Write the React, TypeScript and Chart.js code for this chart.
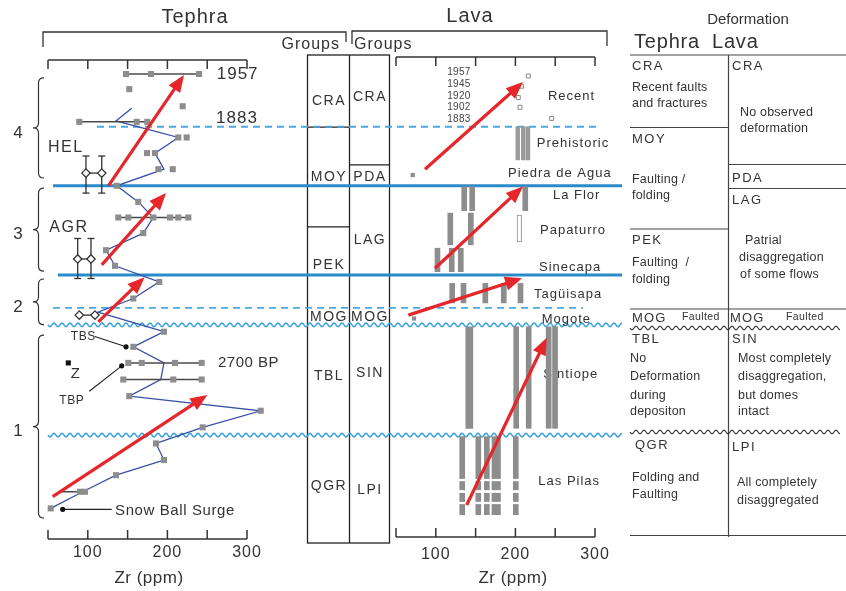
import React, { useEffect, useRef } from "react";
import { Chart, registerables } from "chart.js";
Chart.register(...registerables);

// ---------------- data ----------------
// Zr axis
const zrTicks = [50, 100, 150, 200, 250, 300];
const zrTickLabels = [100, 200, 300];

// Tephra: stratigraphic position (0 = base of section, 100 = top) vs Zr (ppm)
const tephraLineZr = [155.2, 135.4, 213.7, 184.4, 195.7, 136.3, 163.4, 182.3, 169.7, 122.9, 134.2, 189.8, 157.2, 112.8, 195.7, 157.2, 195.7, 191.6, 152.1, 317.2, 244.3, 185.7, 195.7, 135.4, 93.6, 53.4];
const tephraLinePos = [89.1, 86.5, 83.1, 79.9, 76.6, 73.2, 69.9, 66.7, 63.5, 60.0, 56.8, 53.5, 50.1, 47.3, 43.3, 40.2, 36.9, 33.5, 30.1, 27.1, 23.7, 20.4, 17.0, 13.9, 10.5, 7.1];

const sampleZr = [148.0, 179.4, 239.7, 152.1, 219.2, 89.3, 161.4, 174.7, 213.7, 224.2, 174.4, 184.4, 188.6, 206.7, 136.3, 163.4, 138.3, 150.9, 182.3, 203.3, 213.7, 226.3, 169.7, 122.9, 134.2, 189.8, 157.2, 195.7, 157.2, 150.9, 167.7, 209.5, 243.1, 144.6, 207.4, 243.1, 152.1, 317.2, 244.3, 185.7, 195.7, 135.4, 90.2, 96.5, 53.4];
const samplePos = [96.1, 96.1, 96.1, 93.0, 89.5, 86.3, 86.3, 86.3, 83.1, 83.1, 79.9, 79.9, 76.6, 76.6, 73.2, 69.9, 66.7, 66.7, 66.7, 66.7, 66.7, 66.7, 63.5, 60.0, 56.8, 53.5, 50.1, 43.3, 40.2, 36.9, 36.9, 36.9, 36.9, 33.5, 33.5, 33.5, 30.1, 27.1, 23.7, 20.4, 17.0, 13.9, 10.5, 10.5, 7.1];

// Zr ranges of multi-sample horizons
const rangeFromZr = [148.0, 89.3, 138.3, 150.9, 144.6, 65.1];
const rangeToZr = [239.7, 174.7, 226.3, 243.1, 243.1, 96.5];
const rangePos = [96.1, 86.3, 66.7, 36.9, 33.5, 10.5];

// Paired marker horizons (HEL, AGR, unnamed)
const pairNames = ["HEL", "AGR"];
const pairNameZr = [50.0, 51.6];
const pairNamePos = [81.1, 64.6];
const pairZrA = [97.7, 87.3, 89.3];
const pairZrB = [117.5, 104.0, 109.0];
const pairPos = [75.8, 58.2, 46.7];
const pairErrTop = [79.3, 62.4];
const pairErrBottom = [71.7, 54.2];

// Named tephra markers with leaders
const markerNames = ["TBS", "TBP", "Snow Ball Surge"];
const markerZr = [148.0, 142.6, 68.5];
const markerPos = [40.2, 36.3, 6.9];
const leaderZr = [108.8, 101.9, 130.0];
const leaderPos = [42.3, 31.1, 6.9];
const markerLabelZr = [94.3, 79.8, 134.2];
const markerLabelPos = [42.3, 29.1, 6.6];
const zSampleZr = [75.5];
const zSamplePos = [36.9];

const tephraDates = ["1957", "1883", "2700 BP"];
const tephraDateZr = [262.0, 261.1, 263.6];
const tephraDatePos = [96.1, 87.1, 36.9];

// Trend arrows
const tephraArrowFromZr = [125.8, 117.5, 113.2, 55.9];
const tephraArrowFromPos = [73.2, 57.0, 45.3, 9.5];
const tephraArrowToZr = [218.0, 194.9, 167.7, 246.0];
const tephraArrowToPos = [95.2, 71.1, 53.9, 29.9];
const lavaArrowFromZr = [86.4, 99.0, 65.5, 138.8];
const lavaArrowFromPos = [76.6, 56.3, 46.7, 7.8];
const lavaArrowToZr = [205.8, 205.8, 203.6, 237.2];
const lavaArrowToPos = [93.9, 72.5, 54.0, 41.3];

// Lava: recent dated flows
const recentYears = ["1957", "1945", "1920", "1902", "1883"];
const recentZr = [216.2, 207.9, 203.6, 205.8, 245.6];
const recentPos = [95.7, 93.6, 91.3, 89.3, 87.0];
const recentLabelPos = [96.4, 94.0, 91.6, 89.3, 86.8];
const recentLabelZr = 129.1;
const singleLavaZr = [71.0, 72.6];
const singleLavaPos = [75.4, 46.0];

// Lava flow units (Zr ranges shown as vertical bars)
const flowNames = ["Recent", "Prehistoric", "Piedra de Agua", "La Flor", "Papaturro", "Sinecapa", "Tagüisapa", "Mogote", "Sintiope", "Las Pilas"];
const flowLabelZr = [240.9, 226.8, 190.7, 247.2, 230.9, 229.7, 223.4, 233.0, 235.1, 228.8];
const flowLabelPos = [91.5, 81.9, 75.8, 71.2, 64.1, 56.5, 51.0, 45.9, 34.6, 12.6];

const prehistoricZr = [202.9, 209.9, 215.8];
const prehistoricRange = [78.5, 85.3];
const barZr = [135.7, 145.7, 212.4, 118.2, 144.0, 102.1, 120.0, 131.4, 120.6, 134.8, 162.2, 185.4, 206.4, 201.0, 216.7, 241.8, 249.8];
const barBottom = [68.1, 68.1, 68.1, 61.1, 61.1, 55.6, 55.6, 55.6, 49.2, 49.2, 49.2, 49.2, 49.2, 23.5, 23.5, 23.5, 23.5];
const barTop = [73.0, 73.0, 73.0, 67.6, 67.6, 60.4, 60.4, 60.4, 53.2, 53.2, 53.2, 53.2, 53.2, 44.3, 44.3, 44.3, 44.3];
const hollowBarZr = [204.9];
const hollowBarRange = [61.7, 67.2];
const wideBarZr = [142.1];
const wideBarRange = [23.5, 44.3];
const pilasZr = [133.2, 153.4, 164.1, 200.5];
const pilasWideZr = [175.9];
const pilasBottom = [13.2, 10.9, 8.5, 5.8];
const pilasTop = [21.8, 12.6, 10.2, 7.9];

// Stratigraphic boundaries
const solidBounds = [73.2, 54.9];
const dashedBounds = [85.3, 48.2];
const wavyBounds = [44.7, 22.1];

// Eruptive units (braces)
const unitNames = ["4", "3", "2", "1"];
const unitTop = [95.3, 72.7, 54.1, 42.6];
const unitBottom = [74.8, 55.7, 44.7, 5.1];

// Groups
const tephraGroups = ["CRA", "MOY", "PEK", "MOG", "TBL", "QGR"];
const tephraGroupPos = [90.6, 75.0, 57.0, 46.3, 34.2, 11.7];
const tephraGroupDividers = [85.2, 64.8];
const lavaGroups = ["CRA", "PDA", "LAG", "MOG", "SIN", "LPI"];
const lavaGroupPos = [91.4, 75.0, 62.1, 46.3, 34.8, 10.9];
const lavaGroupDividers = [77.5];

// ---------------- layout ----------------
const W = 846;
const H = 591;
const PLOT_TOP = 55;
const PLOT_BOTTOM = 543;
const TEPHRA_PX = [48, 247];
const LAVA_PX = [396, 595];
const FONT = "'Liberation Sans', Arial, Helvetica, sans-serif";
const TXT = "#333";
const RED = "#e5262b";

function axisRange(px: number[]) {
  const k = (px[1] - px[0]) / (300 - 50);
  const min = 50 - px[0] / k;
  return { min, max: min + W / k };
}

function text(ctx: any, s: string, x: number, y: number, size: number, align = "left", ls = 0, color = TXT) {
  ctx.save();
  ctx.font = `${size}px ${FONT}`;
  ctx.fillStyle = color;
  ctx.textAlign = align;
  ctx.textBaseline = "middle";
  try { ctx.letterSpacing = ls + "px"; } catch (e) {}
  ctx.fillText(s, x, y);
  ctx.restore();
}

function line(ctx: any, x0: number, y0: number, x1: number, y1: number) {
  ctx.beginPath();
  ctx.moveTo(x0, y0);
  ctx.lineTo(x1, y1);
  ctx.stroke();
}

function wavy(ctx: any, x0: number, x1: number, y: number, color: string, lw = 1.4) {
  ctx.save();
  ctx.strokeStyle = color;
  ctx.lineWidth = lw;
  ctx.beginPath();
  for (let x = x0; x <= x1; x += 0.5) {
    const yy = y + 1.8 * Math.sin(((x - x0) / 8) * 2 * Math.PI);
    if (x === x0) ctx.moveTo(x, yy); else ctx.lineTo(x, yy);
  }
  ctx.stroke();
  ctx.restore();
}

function brace(ctx: any, top: number, bottom: number) {
  const xr = 44, xs = 38.5, xt = 33, r = 5;
  const mid = (top + bottom) / 2;
  ctx.save();
  ctx.strokeStyle = "#333";
  ctx.lineWidth = 1.2;
  ctx.beginPath();
  ctx.moveTo(xr, top);
  ctx.quadraticCurveTo(xs, top, xs, top + r);
  ctx.lineTo(xs, mid - r);
  ctx.quadraticCurveTo(xs, mid, xt, mid);
  ctx.quadraticCurveTo(xs, mid, xs, mid + r);
  ctx.lineTo(xs, bottom - r);
  ctx.quadraticCurveTo(xs, bottom, xr, bottom);
  ctx.stroke();
  ctx.restore();
}

const figurePlugin = {
  id: "figure",
  beforeDatasetsDraw(chart: any) {
    const ctx = chart.ctx;
    const xT = chart.scales.xT, xL = chart.scales.xL, ys = chart.scales.y;
    const Y = (h: number) => ys.getPixelForValue(h);
    const XT = (v: number) => xT.getPixelForValue(v);
    const XL = (v: number) => xL.getPixelForValue(v);
    ctx.save();

    // titles & brackets
    text(ctx, "Tephra", 195, 17, 20, "center", 1);
    text(ctx, "Lava", 470, 16, 20, "center", 1);
    ctx.strokeStyle = "#333";
    ctx.lineWidth = 1.3;
    ctx.beginPath();
    ctx.moveTo(43, 47); ctx.lineTo(43, 32); ctx.lineTo(346, 32); ctx.lineTo(346, 42);
    ctx.stroke();
    ctx.beginPath();
    ctx.moveTo(352, 44); ctx.lineTo(352, 31); ctx.lineTo(607, 31); ctx.lineTo(607, 46);
    ctx.stroke();
    text(ctx, "Groups", 340, 45, 16, "right", 1);
    text(ctx, "Groups", 354, 45, 16, "left", 1);

    // axes
    const drawAxis = (X: (v: number) => number, base: number, dir: number, labelY: number | null, titleX: number) => {
      ctx.strokeStyle = "#333";
      ctx.lineWidth = 1.5;
      line(ctx, X(zrTicks[0]), base, X(zrTicks[zrTicks.length - 1]), base);
      zrTicks.forEach((t) => line(ctx, X(t), base, X(t), base + dir * 9));
      if (labelY !== null) {
        zrTickLabels.forEach((t) => text(ctx, String(t), X(t), labelY, 16, "center", 1));
        text(ctx, "Zr (ppm)", titleX, 578, 17, "center", 0.5);
      }
    };
    drawAxis(XT, 60, 1, null, 0);
    drawAxis(XT, 539, -1, 553, 149);
    drawAxis(XL, 57, 1, null, 0);
    drawAxis(XL, 537, -1, 555, 513);

    // group boxes
    ctx.strokeStyle = "#222";
    ctx.lineWidth = 1.3;
    ctx.strokeRect(307.5, PLOT_TOP, 82, PLOT_BOTTOM - PLOT_TOP);
    line(ctx, 349.5, PLOT_TOP, 349.5, PLOT_BOTTOM);
    tephraGroupDividers.forEach((h) => line(ctx, 307.5, Y(h), 349.5, Y(h)));
    lavaGroupDividers.forEach((h) => line(ctx, 349.5, Y(h), 389.5, Y(h)));
    tephraGroups.forEach((g, i) => text(ctx, g, 329, Y(tephraGroupPos[i]), 14, "center", 1.5));
    lavaGroups.forEach((g, i) => text(ctx, g, 370, Y(lavaGroupPos[i]), 14, "center", 1.5));

    // boundaries
    const solidExt = [[53, 622], [58, 622]];
    solidBounds.forEach((h, i) => {
      ctx.strokeStyle = "#2a8bcb";
      ctx.lineWidth = 3;
      line(ctx, solidExt[i][0], Y(h), solidExt[i][1], Y(h));
    });
    const dashExt = [[97, 598], [53, 583]];
    dashedBounds.forEach((h, i) => {
      ctx.save();
      ctx.strokeStyle = "#49a9df";
      ctx.lineWidth = 1.8;
      ctx.setLineDash([7, 5]);
      line(ctx, dashExt[i][0], Y(h), dashExt[i][1], Y(h));
      ctx.restore();
    });
    wavyBounds.forEach((h) => wavy(ctx, 48, 622, Y(h), "#3aa2dc", 1.5));

    // braces and unit numbers
    unitNames.forEach((u, i) => {
      brace(ctx, Y(unitTop[i]), Y(unitBottom[i]));
      text(ctx, u, 18, (Y(unitTop[i]) + Y(unitBottom[i])) / 2 + 5, 17, "center");
    });

    // tephra annotations
    tephraDates.forEach((d, i) => text(ctx, d, XT(tephraDateZr[i]), Y(tephraDatePos[i]), i < 2 ? 17 : 15, "left", i < 2 ? 1 : 0.5));
    pairNames.forEach((n, i) => text(ctx, n, XT(pairNameZr[i]), Y(pairNamePos[i]), 16, "left", 1.5));
    markerNames.forEach((n, i) => text(ctx, n, XT(markerLabelZr[i]), Y(markerLabelPos[i]), i < 2 ? 12 : 15, i < 2 ? "center" : "left", i < 2 ? 0.5 : 0.6));
    text(ctx, "Z", XT(zSampleZr[0]) + 7, Y(zSamplePos[0]) + 11, 15, "center");

    // lava annotations
    recentYears.forEach((yr, i) => text(ctx, yr, XL(recentLabelZr), Y(recentLabelPos[i]), 10, "center", 0.3, "#444"));
    flowNames.forEach((n, i) => text(ctx, n, XL(flowLabelZr[i]), Y(flowLabelPos[i]), 13, "left", 1));

    // deformation table
    const L = 630, M = 728.5, R = 846;
    ctx.strokeStyle = "#444";
    ctx.lineWidth = 1.2;
    line(ctx, L, 55, R, 55);
    line(ctx, M, 55, M, 537);
    line(ctx, L, 127.5, M, 127.5);
    line(ctx, M, 164.5, R, 164.5);
    line(ctx, M, 188.5, R, 188.5);
    line(ctx, L, 229, M, 229);
    line(ctx, L, 309, R, 309);
    line(ctx, L, 535.5, R, 535.5);
    wavy(ctx, L, 840, 328, "#333", 1.1);
    wavy(ctx, L, 840, 432, "#333", 1.1);
    text(ctx, "Deformation", 748, 20, 15, "center");
    text(ctx, "Tephra", 634, 42, 20, "left", 0.8);
    text(ctx, "Lava", 712, 42, 20, "left", 0.8);
    const T = (s: string, x: number, y: number, size = 12.5, ls = 0.2) => text(ctx, s, x, y, size, "left", ls);
    T("CRA", 632, 66, 13, 1.5); T("CRA", 732, 66, 13, 1.5);
    T("Recent faults", 632, 88); T("and fractures", 632, 104);
    T("No observed", 740, 113); T("deformation", 740, 129);
    T("MOY", 632, 139, 13, 1.5);
    T("Faulting /", 632, 180); T("folding", 632, 196);
    T("PDA", 732, 178, 13, 1.5);
    T("LAG", 732, 200, 13, 1.5);
    T("PEK", 632, 240, 13, 1.5);
    T("Faulting  /", 632, 263); T("folding", 632, 280);
    T("Patrial", 745, 241); T("disaggregation", 739, 258); T("of some flows", 740, 275);
    T("MOG", 632, 318, 13, 1.2); T("Faulted", 682, 317, 10.5, 0.4);
    T("MOG", 730, 318, 13, 1.2); T("Faulted", 786, 317, 10.5, 0.4);
    T("TBL", 632, 339, 13, 1.5); T("SIN", 732, 339, 13, 1.5);
    T("No", 630, 359); T("Deformation", 630, 377); T("during", 630, 396); T("depositon", 630, 412);
    T("Most completely", 738, 359); T("disaggregation,", 738, 377); T("but domes", 738, 396); T("intact", 738, 412);
    T("QGR", 635, 445, 13, 1.5); T("LPI", 732, 447, 13, 1.5);
    T("Folding and", 632, 478); T("Faulting", 632, 495);
    T("All completely", 737, 483); T("disaggregated", 737, 501);

    ctx.restore();
  },
  afterDatasetsDraw(chart: any) {
    const ctx = chart.ctx;
    chart.data.datasets.forEach((ds: any, i: number) => {
      if (!ds.arrow) return;
      const meta = chart.getDatasetMeta(i);
      const p0 = meta.data[0], p1 = meta.data[1];
      const a = Math.atan2(p1.y - p0.y, p1.x - p0.x);
      const c = Math.cos(a), s = Math.sin(a);
      const tx = p1.x + 4 * c, ty = p1.y + 4 * s;
      const Lh = 17, Wh = 7;
      ctx.save();
      ctx.fillStyle = RED;
      ctx.beginPath();
      ctx.moveTo(tx, ty);
      ctx.lineTo(tx - Lh * c + Wh * s, ty - Lh * s - Wh * c);
      ctx.lineTo(tx - Lh * c - Wh * s, ty - Lh * s + Wh * c);
      ctx.closePath();
      ctx.fill();
      ctx.restore();
    });
  },
};

function seg(axis: string, x0: number, y0: number, x1: number, y1: number, color: string, width: number, extra: any = {}) {
  return {
    type: "line", xAxisID: axis, yAxisID: "y",
    data: [{ x: x0, y: y0 }, { x: x1, y: y1 }],
    borderColor: color, borderWidth: width, pointRadius: 0, fill: false, tension: 0, clip: false,
    borderCapStyle: "butt", ...extra,
  };
}

function bars(zr: number[], lo: number, hi: number, thickness: number, fill: string, border = 0, borderColor = fill) {
  return {
    type: "bar", xAxisID: "xL", yAxisID: "y",
    data: zr.map((x) => ({ x, y: [lo, hi] })),
    barThickness: thickness, grouped: false, backgroundColor: fill,
    borderColor, borderWidth: border, borderSkipped: false, clip: false,
  };
}

function buildDatasets() {
  const ds: any[] = [];
  // arrows on top
  tephraArrowFromZr.forEach((x, i) => ds.push(seg("xT", x, tephraArrowFromPos[i], tephraArrowToZr[i], tephraArrowToPos[i], RED, 3.2, { arrow: true })));
  lavaArrowFromZr.forEach((x, i) => ds.push(seg("xL", x, lavaArrowFromPos[i], lavaArrowToZr[i], lavaArrowToPos[i], RED, 3.2, { arrow: true })));
  // paired diamonds
  ds.push({
    type: "scatter", xAxisID: "xT", yAxisID: "y",
    data: pairZrA.flatMap((a, i) => [{ x: a, y: pairPos[i] }, { x: pairZrB[i], y: pairPos[i] }]),
    pointStyle: "rectRot", pointRadius: 4.2, pointBackgroundColor: "#fff", backgroundColor: "#fff",
    pointBorderColor: "#333", borderColor: "#333", pointBorderWidth: 1.3, clip: false,
  });
  pairZrA.forEach((a, i) => ds.push(seg("xT", a, pairPos[i], pairZrB[i], pairPos[i], "#333", 1.3)));
  pairErrTop.forEach((t, i) => {
    [pairZrA[i], pairZrB[i]].forEach((x) => {
      ds.push(seg("xT", x, t, x, pairErrBottom[i], "#333", 1.3));
      ds.push({
        type: "scatter", xAxisID: "xT", yAxisID: "y",
        data: [{ x, y: t }, { x, y: pairErrBottom[i] }],
        pointStyle: "line", pointRadius: 3.5, pointBorderColor: "#333", borderColor: "#333", pointBorderWidth: 1.3, clip: false,
      });
    });
  });
  // markers with leaders
  ds.push({
    type: "scatter", xAxisID: "xT", yAxisID: "y",
    data: markerZr.map((x, i) => ({ x, y: markerPos[i] })),
    pointStyle: "circle", pointRadius: 2.6, pointBackgroundColor: "#111", backgroundColor: "#111", pointBorderWidth: 0, clip: false,
  });
  ds.push({
    type: "scatter", xAxisID: "xT", yAxisID: "y",
    data: zSampleZr.map((x, i) => ({ x, y: zSamplePos[i] })),
    pointStyle: "rect", pointRadius: 3.6, pointBackgroundColor: "#111", backgroundColor: "#111", pointBorderWidth: 0, clip: false,
  });
  markerZr.forEach((x, i) => ds.push(seg("xT", leaderZr[i], leaderPos[i], x, markerPos[i], "#222", 1.1)));
  // tephra samples
  ds.push({
    type: "scatter", xAxisID: "xT", yAxisID: "y",
    data: sampleZr.map((x, i) => ({ x, y: samplePos[i] })),
    pointStyle: "rect", pointRadius: 4.3, pointBackgroundColor: "#8d8d8d", backgroundColor: "#8d8d8d", pointBorderWidth: 0, clip: false,
  });
  rangeFromZr.forEach((x, i) => ds.push(seg("xT", x, rangePos[i], rangeToZr[i], rangePos[i], "#4a4a4a", 1.5)));
  ds.push({
    type: "line", xAxisID: "xT", yAxisID: "y",
    data: tephraLineZr.map((x, i) => ({ x, y: tephraLinePos[i] })),
    borderColor: "#3b4fa6", borderWidth: 1.3, pointRadius: 0, tension: 0, fill: false, clip: false,
  });
  // lava
  ds.push({
    type: "scatter", xAxisID: "xL", yAxisID: "y",
    data: recentZr.map((x, i) => ({ x, y: recentPos[i] })),
    pointStyle: "rect", pointRadius: 2.8, pointBackgroundColor: "#fff", backgroundColor: "#fff",
    pointBorderColor: "#888", borderColor: "#888", pointBorderWidth: 1, clip: false,
  });
  ds.push({
    type: "scatter", xAxisID: "xL", yAxisID: "y",
    data: singleLavaZr.map((x, i) => ({ x, y: singleLavaPos[i] })),
    pointStyle: "rect", pointRadius: 3, pointBackgroundColor: "#8d8d8d", backgroundColor: "#8d8d8d", pointBorderWidth: 0, clip: false,
  });
  ds.push(bars(prehistoricZr, prehistoricRange[0], prehistoricRange[1], 3.8, "#9a9a9a"));
  barZr.forEach((x, i) => ds.push(bars([x], barBottom[i], barTop[i], 5, "#8d8d8d")));
  ds.push(bars(hollowBarZr, hollowBarRange[0], hollowBarRange[1], 4.5, "#fff", 1, "#8d8d8d"));
  ds.push(bars(wideBarZr, wideBarRange[0], wideBarRange[1], 7, "#8d8d8d"));
  pilasBottom.forEach((b, i) => {
    ds.push(bars(pilasZr, b, pilasTop[i], 5, "#8d8d8d"));
    ds.push(bars(pilasWideZr, b, pilasTop[i], 8.5, "#8d8d8d"));
  });
  return ds;
}

export default function App() {
  const ref = useRef<HTMLCanvasElement>(null);
  useEffect(() => {
    const rT = axisRange(TEPHRA_PX);
    const rL = axisRange(LAVA_PX);
    const chart = new Chart(ref.current as HTMLCanvasElement, {
      type: "scatter",
      data: { datasets: buildDatasets() },
      options: {
        animation: false,
        responsive: false,
        devicePixelRatio: 1,
        events: [],
        layout: { autoPadding: false, padding: { left: 0, right: 0, top: PLOT_TOP, bottom: H - PLOT_BOTTOM } },
        plugins: { legend: { display: false }, tooltip: { enabled: false }, title: { display: false } },
        scales: {
          xT: { type: "linear", display: false, offset: false, grid: { offset: false }, min: rT.min, max: rT.max },
          xL: { type: "linear", display: false, offset: false, grid: { offset: false }, min: rL.min, max: rL.max },
          y: { type: "linear", display: false, offset: false, min: 0, max: 100 },
        },
      } as any,
      plugins: [figurePlugin as any],
    } as any);
    return () => chart.destroy();
  }, []);
  return (
    <div style={{ position: "absolute", left: 0, top: 0, width: W, height: H, background: "#fff" }}>
      <canvas ref={ref} width={W} height={H} style={{ display: "block", width: W, height: H }} />
    </div>
  );
}
